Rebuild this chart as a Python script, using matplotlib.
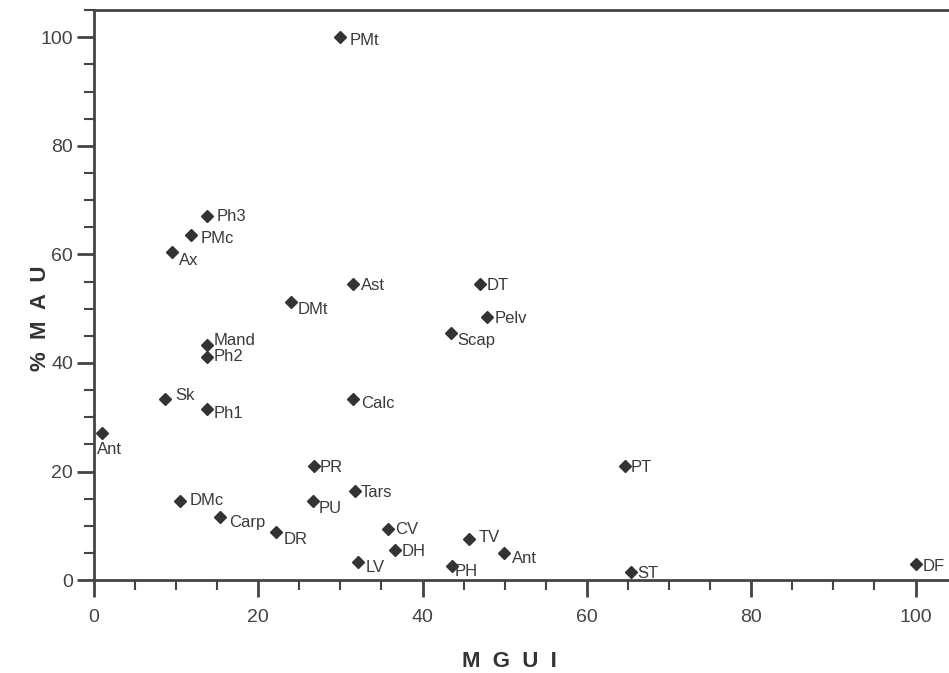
import matplotlib.pyplot as plt
from matplotlib.ticker import MultipleLocator

# skeletal element, MGUI, %MAU
ELEMENTS = ["PMt", "Ph3", "PMc", "Ax", "DMt", "Ast", "DT", "Pelv", "Scap",
            "Mand", "Ph2", "Sk", "Ph1", "Calc", "Ant", "PR", "PT", "DMc",
            "Tars", "PU", "Carp", "DR", "CV", "TV", "DH", "Ant", "LV", "PH",
            "ST", "DF"]
MGUI = [29.9, 13.7, 11.8, 9.5, 24.0, 31.5, 47.0, 47.8, 43.4,
        13.7, 13.7, 8.7, 13.7, 31.5, 1.0, 26.8, 64.6, 10.5,
        31.8, 26.7, 15.4, 22.2, 35.8, 45.6, 36.6, 49.9, 32.2, 43.6,
        65.4, 100.0]
MAU = [100.0, 67.0, 63.5, 60.4, 51.2, 54.5, 54.5, 48.5, 45.5,
       43.3, 41.1, 33.3, 31.5, 33.3, 27.1, 21.0, 21.0, 14.5,
       16.4, 14.5, 11.6, 8.8, 9.4, 7.6, 5.5, 5.0, 3.3, 2.6,
       1.5, 3.0]

# label offsets in points (dx, dy) relative to the marker
LABEL_OFFSETS = {
    0: (7, -2), 1: (7, 0), 2: (7, -2), 3: (5, -6), 4: (5, -5), 5: (6, -1),
    6: (5, -1), 7: (6, -1), 8: (5, -5), 9: (5, 3), 10: (5, 0), 11: (7, 3),
    12: (5, -3), 13: (6, -3), 14: (-4, -12), 15: (4, -1), 16: (4, -1),
    17: (7, 1), 18: (4, -1), 19: (4, -5), 20: (6, -4), 21: (5, -5),
    22: (5, 0), 23: (7, 1), 24: (5, -1), 25: (6, -4), 26: (5, -4),
    27: (2, -4), 28: (4, -1), 29: (5, -2),
}

plt.rcParams["font.family"] = ["Liberation Sans", "DejaVu Sans"]

fig = plt.figure(figsize=(9.49, 6.73), dpi=100)
ax = fig.add_axes([0.099, 0.138, 0.909, 0.847])

ink = "#333333"
ax.plot(MGUI, MAU, linestyle="none", marker="D", markersize=6.5, color=ink)

for i, (name, x, y) in enumerate(zip(ELEMENTS, MGUI, MAU)):
    dx, dy = LABEL_OFFSETS[i]
    ax.annotate(name, (x, y), xytext=(dx, dy), textcoords="offset points",
                ha="left", va="center", fontsize=12, color="#3a3a3a")

ax.set_xlim(0, 105)
ax.set_ylim(0, 105)
ax.xaxis.set_major_locator(MultipleLocator(20))
ax.xaxis.set_minor_locator(MultipleLocator(5))
ax.yaxis.set_major_locator(MultipleLocator(20))
ax.yaxis.set_minor_locator(MultipleLocator(5))

for side in ["left", "bottom", "top", "right"]:
    ax.spines[side].set_linewidth(2)
    ax.spines[side].set_color("#444444")

ax.tick_params(axis="both", which="major", direction="out", length=12,
               width=2, color="#444444", labelsize=14, labelcolor="#444444", pad=3)
ax.tick_params(axis="x", which="major", pad=9)
ax.tick_params(axis="both", which="minor", direction="out", length=7,
               width=1.5, color="#444444")

ax.set_xlabel("M  G  U  I", fontsize=16, fontweight="bold", color="#333333")
ax.set_ylabel("%  M  A  U", fontsize=16, fontweight="bold", color="#333333")
ax.xaxis.set_label_coords(0.481, -0.125)
ax.yaxis.set_label_coords(-0.05, 0.46)

fig.savefig("out.png", dpi=100)
